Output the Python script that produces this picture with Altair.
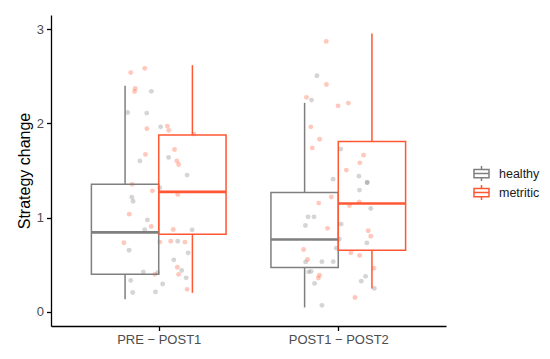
import altair as alt
import pandas as pd

categories = ["PRE − POST1", "POST1 − POST2"]
groups = ["healthy", "metritic"]
group_colors = ["#7F7F7F", "#FF5733"]

# box statistics, one value per category
healthy_low = [0.135, 0.047]
healthy_q1 = [0.400, 0.471]
healthy_med = [0.843, 0.768]
healthy_q3 = [1.355, 1.267]
healthy_high = [2.398, 2.218]

metritic_low = [0.202, 0.248]
metritic_q1 = [0.824, 0.655]
metritic_med = [1.273, 1.150]
metritic_q3 = [1.877, 1.808]
metritic_high = [2.618, 2.954]

# jittered observations: horizontal jitter (category units) and value
pre_healthy_jit = [-0.041, -0.173, -0.067, 0.011, 0.055, -0.105, 0.158, 0.006, -0.150, -0.143,
                   -0.063, -0.078, 0.186, -0.165, 0.106, 0.164, 0.084, 0.128, 0.153, -0.086,
                   -0.006, -0.156, 0.022, -0.145, -0.018]
pre_healthy_val = [2.340, 2.116, 2.109, 1.963, 1.639, 1.602, 1.451, 1.318, 1.217, 1.173,
                   0.976, 0.872, 0.870, 0.653, 0.750, 0.626, 0.552, 0.439, 0.361, 0.424,
                   0.416, 0.334, 0.296, 0.206, 0.212]
pre_metritic_jit = [-0.156, -0.078, -0.131, -0.135, -0.066, 0.048, 0.056, -0.074, 0.088, 0.101,
                    0.111, 0.196, -0.148, -0.035, 0.106, -0.164, -0.042, 0.081, -0.194, 0.006,
                    0.067, 0.146, 0.104, 0.111, -0.022, 0.158]
pre_metritic_val = [2.539, 2.584, 2.371, 2.339, 1.944, 1.971, 1.926, 1.671, 1.723, 1.602,
                    1.564, 1.886, 1.353, 1.284, 1.246, 1.037, 0.907, 0.874, 0.734, 0.740,
                    0.750, 0.740, 0.474, 0.398, 0.398, 0.239]
post_healthy_jit = [-0.119, -0.149, 0.014, -0.029, 0.115, 0.161, 0.161, 0.118, 0.181, -0.168,
                    -0.135, -0.183, 0.016, 0.006, 0.159, -0.011, -0.182, -0.091, -0.028, -0.165,
                    -0.151, -0.132, 0.152, 0.128, 0.201, -0.091]
post_healthy_val = [2.505, 2.247, 1.727, 1.408, 1.440, 1.373, 1.373, 1.292, 1.097, 1.008,
                    1.008, 0.917, 0.931, 0.772, 0.732, 0.676, 0.530, 0.533, 0.533, 0.424,
                    0.430, 0.302, 0.377, 0.326, 0.249, 0.069]
post_metritic_jit = [-0.067, -0.066, -0.177, -0.001, 0.056, -0.153, -0.104, -0.145, 0.141, 0.120,
                     0.045, -0.039, -0.109, 0.062, 0.117, -0.060, 0.167, 0.181, -0.193, -0.171,
                     0.070, 0.119, 0.198, -0.105, -0.111, 0.093]
post_metritic_val = [2.870, 2.413, 2.276, 2.186, 2.215, 1.963, 1.831, 1.740, 1.663, 1.581,
                     1.504, 1.219, 1.154, 1.127, 1.167, 0.886, 0.860, 0.803, 0.662, 0.556,
                     0.628, 0.599, 0.462, 0.389, 0.360, 0.153]

# ---- build tables ----
stats = {
    "healthy": (healthy_low, healthy_q1, healthy_med, healthy_q3, healthy_high),
    "metritic": (metritic_low, metritic_q1, metritic_med, metritic_q3, metritic_high),
}
dodge = 0.375
box_rows = []
for ci, cat in enumerate(categories):
    for gi, g in enumerate(groups):
        lo, q1, med, q3, hi = stats[g]
        x_lo = ci + 1 + (gi - 1) * dodge
        box_rows.append(dict(cat=cat, group=g, x_lo=x_lo, x_hi=x_lo + dodge,
                             x_mid=x_lo + dodge / 2, low=lo[ci], q1=q1[ci],
                             med=med[ci], q3=q3[ci], high=hi[ci]))
boxes = pd.DataFrame(box_rows)

pt_rows = []
for ci, g, jit, val in [
    (0, "healthy", pre_healthy_jit, pre_healthy_val),
    (0, "metritic", pre_metritic_jit, pre_metritic_val),
    (1, "healthy", post_healthy_jit, post_healthy_val),
    (1, "metritic", post_metritic_jit, post_metritic_val),
]:
    for j, v in zip(jit, val):
        pt_rows.append(dict(cat=categories[ci], pgroup=g, x=ci + 1 + j, value=v))
points = pd.DataFrame(pt_rows)

label_expr = " : ".join(
    [f"datum.value == {i + 1} ? '{c}'" for i, c in enumerate(categories[:-1])]
    + [f"'{categories[-1]}'"]
)

x_scale = alt.Scale(domain=[0.4, 2.6], nice=False, zero=False)
y_scale = alt.Scale(domain=[-0.15, 3.15], nice=False, zero=False)
x_axis = alt.Axis(values=[1, 2], labelExpr=label_expr, title=None)
y_axis = alt.Axis(values=[0, 1, 2, 3], format="d", title="Strategy change")

stroke_scale = alt.Scale(domain=groups, range=group_colors)
legend_path = "M-1,-0.55H1V0.55H-1Z M-1,0H1 M0,-0.55V-1 M0,0.55V1"
legend = alt.Legend(title=None, orient="none", legendX=422, legendY=150,
                    symbolType=legend_path, symbolSize=225, symbolStrokeWidth=1.5,
                    symbolFillColor="transparent", labelFontSize=12.5,
                    labelColor="#1a1a1a", labelOffset=9, rowPadding=-2,
                    labelFont="Liberation Sans")
stroke_enc = alt.Stroke("group:N", scale=stroke_scale, legend=legend)

pts = alt.Chart(points).mark_circle(size=24, opacity=0.33).encode(
    x=alt.X("x:Q", scale=x_scale, axis=x_axis),
    y=alt.Y("value:Q", scale=y_scale, axis=y_axis),
    color=alt.Color("pgroup:N", scale=alt.Scale(domain=groups, range=group_colors), legend=None),
)

base = alt.Chart(boxes)
rect = base.mark_rect(filled=False, strokeWidth=1.5).encode(
    x=alt.X("x_lo:Q", scale=x_scale, axis=x_axis), x2="x_hi:Q",
    y=alt.Y("q1:Q", scale=y_scale, axis=y_axis), y2="q3:Q",
    stroke=stroke_enc,
)
whisk_up = base.mark_rule(strokeWidth=1.5).encode(
    x=alt.X("x_mid:Q", scale=x_scale), y=alt.Y("q3:Q", scale=y_scale), y2="high:Q",
    stroke=stroke_enc,
)
whisk_lo = base.mark_rule(strokeWidth=1.5).encode(
    x=alt.X("x_mid:Q", scale=x_scale), y=alt.Y("low:Q", scale=y_scale), y2="q1:Q",
    stroke=stroke_enc,
)
median = base.mark_rule(strokeWidth=2.6).encode(
    x=alt.X("x_lo:Q", scale=x_scale), x2="x_hi:Q", y=alt.Y("med:Q", scale=y_scale),
    stroke=stroke_enc,
)

chart = alt.layer(pts, rect, whisk_up, whisk_lo, median).properties(
    width=395, height=311,
    autosize=alt.AutoSizeParams(type="none"),
    padding={"left": 43, "top": 7, "right": 96, "bottom": 25},
).resolve_scale(color="independent", stroke="shared").configure_view(stroke=None).configure_axis(
    grid=False, domainColor="black", domainWidth=1.3, tickColor="black", tickWidth=1.3,
    tickSize=4.5, labelColor="#4D4D4D", labelFontSize=13, labelFont="Liberation Sans",
    titleFont="Liberation Sans", titleFontSize=16, titleFontWeight="normal", titleColor="black",
).configure_axisY(labelPadding=3, titlePadding=4).configure_axisX(labelPadding=3)

chart.save("out.html", embed_options={"renderer": "svg", "actions": False})
